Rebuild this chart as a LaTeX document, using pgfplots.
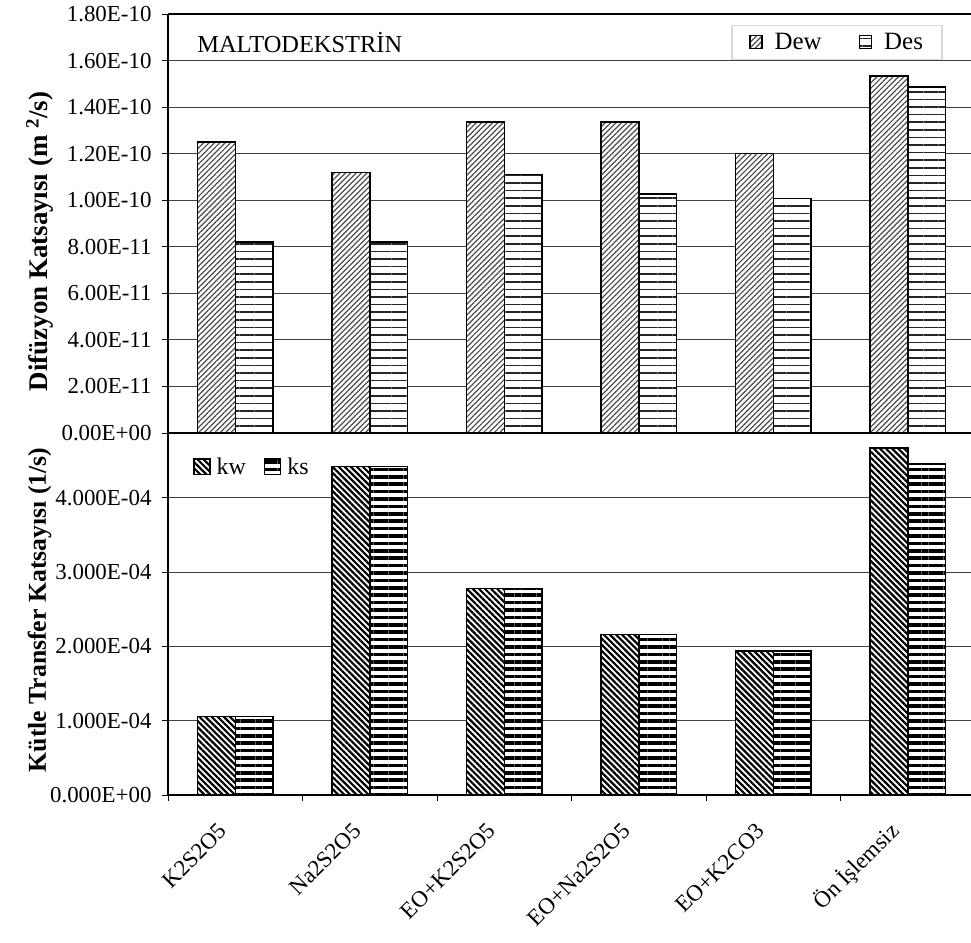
\documentclass[border=0pt]{standalone}
\usepackage{fontspec}
\setmainfont{Liberation Serif}
\usepackage{pgfplots}
\pgfplotsset{compat=1.18}
\usetikzlibrary{patterns.meta}

\tikzset{
  dewpat/.style={draw=black, line width=1.5bp, fill=white,
    postaction={pattern={Lines[angle=45,distance=3.8bp,line width=1.2bp]}, pattern color=black!70}},
  despat/.style={draw=black, line width=1.5bp, fill=white,
    postaction={pattern={Lines[angle=0,distance=7.6bp,line width=1.6bp]}, pattern color=black!85}},
  kwpat/.style={draw=black, line width=1.5bp, fill=white,
    postaction={pattern={Lines[angle=-45,distance=4.3bp,line width=2.2bp]}, pattern color=black}},
  kspat/.style={draw=black, line width=1.5bp, fill=white,
    postaction={pattern={Lines[angle=0,distance=7.4bp,line width=3.6bp]}, pattern color=black}},
}
\pgfplotsset{
  sqlegend/.style={legend image code/.code={\draw[##1,line width=1.6bp] (0bp,-6bp) rectangle (12bp,7bp);}},
  sqlegendB/.style={legend image code/.code={\draw[##1,line width=1.6bp] (0bp,-7.5bp) rectangle (16bp,8bp);}},
}

\begin{document}
\begin{tikzpicture}[font=\fontsize{23}{27}\selectfont]
\useasboundingbox (0,0) rectangle (971bp,943bp);

% ---------------- top axis ----------------
\begin{axis}[
  at={(168bp,510bp)}, anchor=south west, scale only axis,
  width=807bp, height=419bp,
  xmin=-0.5, xmax=5.5, ymin=0, ymax=1.8e-10,
  ybar=0pt, bar width=0.28,
  xtick=\empty,
  ytick={0,2e-11,4e-11,6e-11,8e-11,1e-10,1.2e-10,1.4e-10,1.6e-10,1.8e-10},
  yticklabels={0.00E+00,2.00E-11,4.00E-11,6.00E-11,8.00E-11,1.00E-10,1.20E-10,1.40E-10,1.60E-10,1.80E-10},
  scaled y ticks=false,
  yticklabel style={xshift=-7bp},
  ymajorgrids, grid style={black!75,line width=0.9bp},
  tick pos=left, tick align=outside, major tick length=6bp,
  tick style={black,line width=0.9bp},
  separate axis lines,
  y axis line style={line width=1.4bp},
  x axis line style={line width=2.4bp},
  ylabel={\bfseries Difüzyon Katsayısı (m \textsuperscript{2}/s)},
  ylabel style={at={(axis description cs:-0.159,0.457)}, anchor=center, font=\fontsize{27}{31}\selectfont},
  legend style={at={(rel axis cs:0.9598,0.89)}, anchor=south east, legend columns=2,
    draw=black!15, line width=1.2bp, fill=white, font=\fontsize{25}{29}\selectfont,
    inner xsep=17bp, inner ysep=6bp,
    /tikz/every odd column/.append style={column sep=10bp},
    /tikz/every even column/.append style={column sep=35bp}},
]
\addplot[dewpat, sqlegend] coordinates {(0,1.25e-10) (1,1.12e-10) (2,1.335e-10) (3,1.335e-10) (4,1.20e-10) (5,1.534e-10)};
\addlegendentry{Dew}
\addplot[despat, sqlegend] coordinates {(0,8.2e-11) (1,8.2e-11) (2,1.11e-10) (3,1.027e-10) (4,1.008e-10) (5,1.487e-10)};
\addlegendentry{Des}
\node[anchor=west, font=\fontsize{24.5}{28}\selectfont] at (rel axis cs:0.032,0.931) {MALTODEKSTRİN};
\end{axis}

% ---------------- bottom axis ----------------
\begin{axis}[
  at={(168bp,148bp)}, anchor=south west, scale only axis,
  width=807bp, height=362bp,
  xmin=-0.5, xmax=5.5, ymin=0, ymax=4.87e-4,
  ybar=0pt, bar width=0.28,
  xtick={-0.5,0.5,1.5,2.5,3.5,4.5,5.5},
  xticklabels={{},{},{},{},{},{},{}},
  extra x ticks={0,1,2,3,4,5},
  extra x tick labels={K2S2O5,Na2S2O5,EO+K2S2O5,EO+Na2S2O5,EO+K2CO3,Ön İşlemsiz},
  extra x tick style={major tick length=0pt},
  x tick label style={xshift=-10bp, yshift=-30bp, rotate=45, anchor=east},
  ytick={0,1e-4,2e-4,3e-4,4e-4},
  yticklabels={0.000E+00,1.000E-04,2.000E-04,3.000E-04,4.000E-04},
  scaled y ticks=false,
  yticklabel style={xshift=-7bp},
  ymajorgrids, grid style={black!75,line width=0.9bp},
  tick pos=left, tick align=outside, major tick length=6bp,
  tick style={black,line width=0.9bp},
  separate axis lines,
  y axis line style={line width=1.4bp},
  x axis line style={line width=2.4bp},
  ylabel={\bfseries Kütle Transfer Katsayısı (1/s)},
  ylabel style={at={(axis description cs:-0.159,0.511)}, anchor=center, font=\fontsize{25.8}{30}\selectfont},
  legend style={at={(rel axis cs:0.027,0.906)}, anchor=west, legend columns=2,
    draw=none, fill=none, font=\fontsize{24}{28}\selectfont,
    /tikz/every odd column/.append style={column sep=4bp},
    /tikz/every even column/.append style={column sep=16bp}},
]
\addplot[kwpat, sqlegendB] coordinates {(0,1.054e-4) (1,4.42e-4) (2,2.78e-4) (3,2.157e-4) (4,1.94e-4) (5,4.67e-4)};
\addlegendentry{kw}
\addplot[kspat, sqlegendB] coordinates {(0,1.054e-4) (1,4.42e-4) (2,2.78e-4) (3,2.157e-4) (4,1.94e-4) (5,4.45e-4)};
\addlegendentry{ks}
\end{axis}
\end{tikzpicture}
\end{document}
